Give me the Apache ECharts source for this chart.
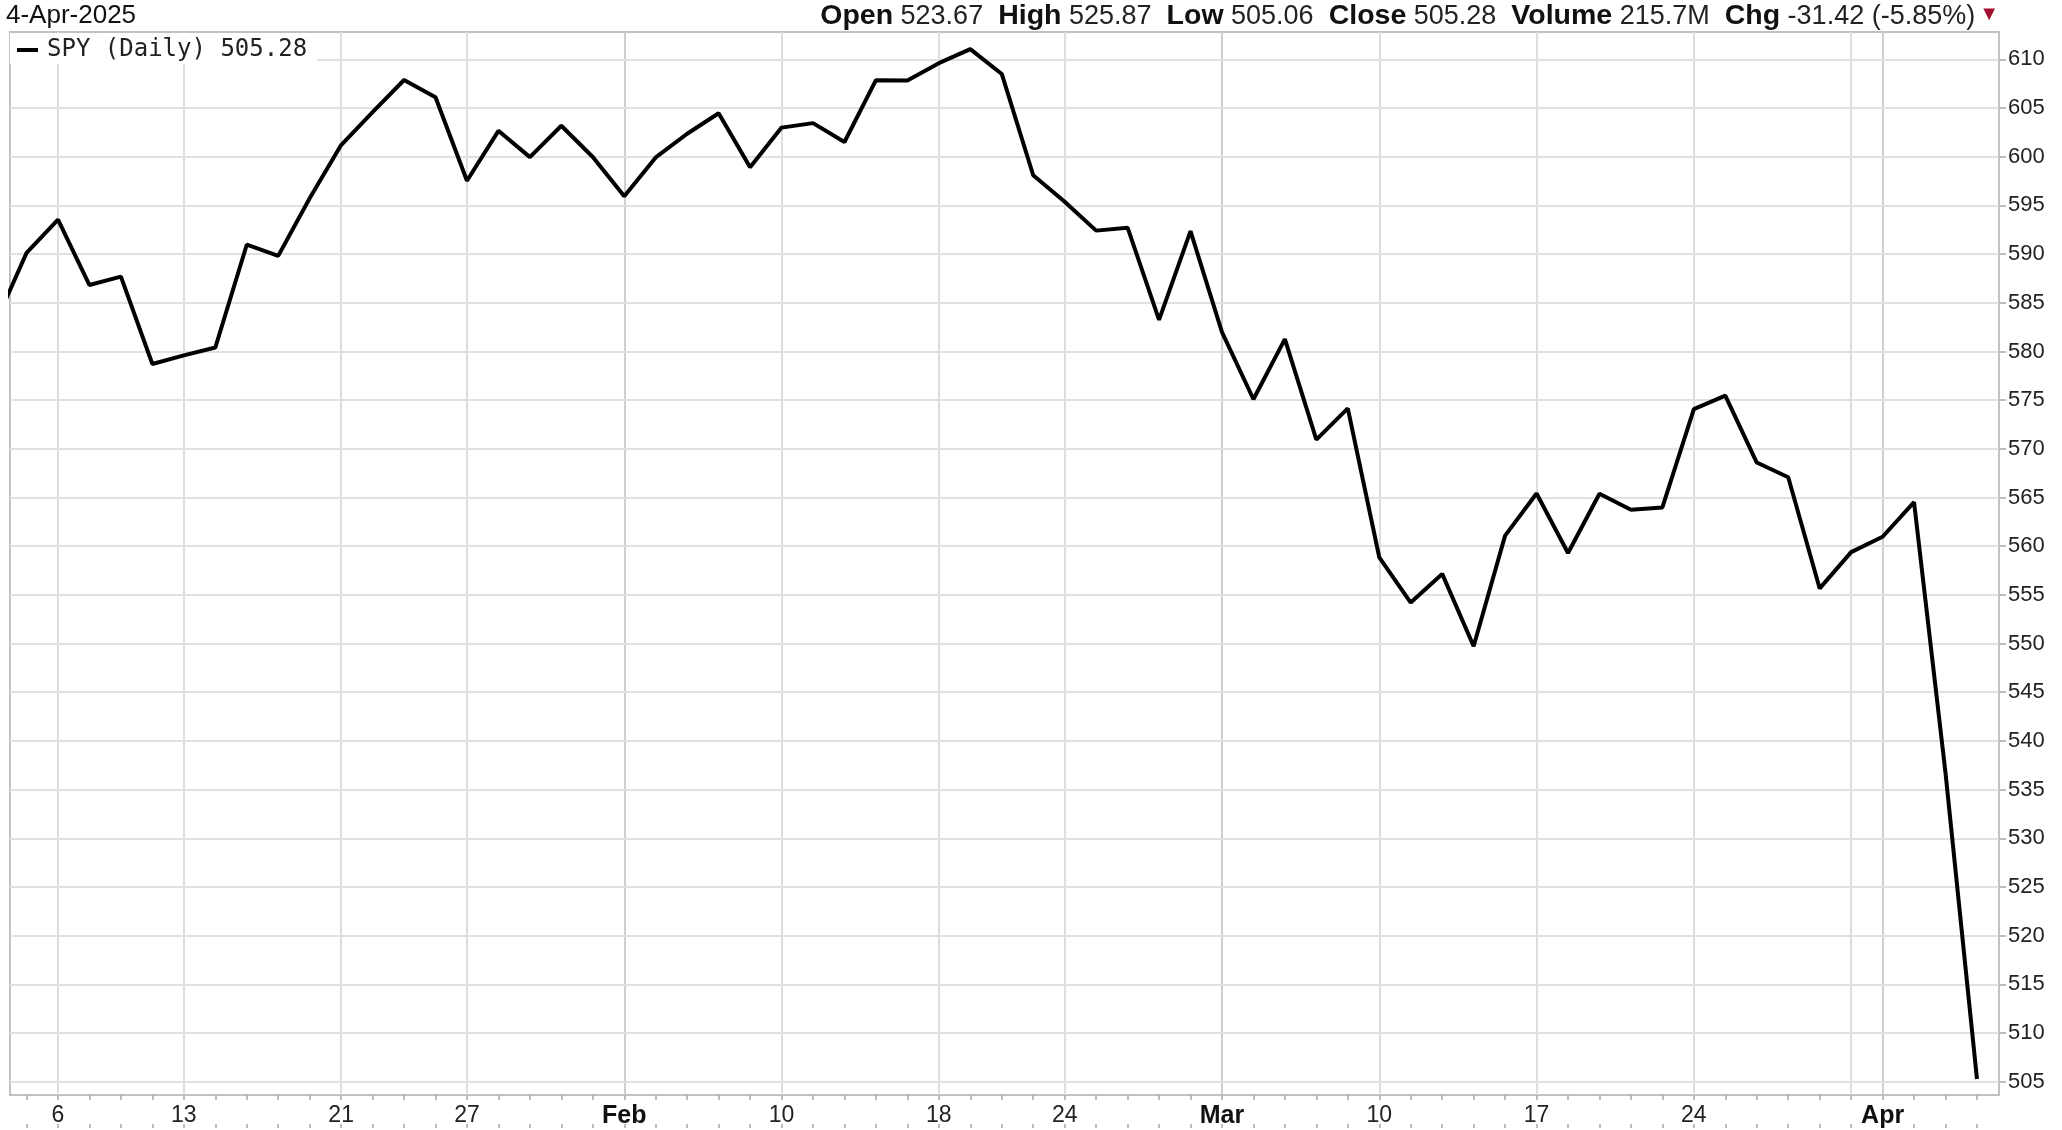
<!DOCTYPE html>
<html>
<head>
<meta charset="utf-8">
<script src="https://cdn.jsdelivr.net/npm/echarts@6/dist/echarts.min.js"></script>
<style>
html,body{margin:0;padding:0;background:#fff;}
#chart{width:2062px;height:1130px;}
</style>
</head>
<body>
<div id="chart"></div>
<script>
// Trading days shown (Jan 2 is partly clipped at the left edge)
const days = [
  '2025-01-02','2025-01-03','2025-01-06','2025-01-07','2025-01-08','2025-01-10','2025-01-13','2025-01-14',
  '2025-01-15','2025-01-16','2025-01-17','2025-01-21','2025-01-22','2025-01-23','2025-01-24','2025-01-27',
  '2025-01-28','2025-01-29','2025-01-30','2025-01-31','2025-02-03','2025-02-04','2025-02-05','2025-02-06',
  '2025-02-07','2025-02-10','2025-02-11','2025-02-12','2025-02-13','2025-02-14','2025-02-18','2025-02-19',
  '2025-02-20','2025-02-21','2025-02-24','2025-02-25','2025-02-26','2025-02-27','2025-02-28','2025-03-03',
  '2025-03-04','2025-03-05','2025-03-06','2025-03-07','2025-03-10','2025-03-11','2025-03-12','2025-03-13',
  '2025-03-14','2025-03-17','2025-03-18','2025-03-19','2025-03-20','2025-03-21','2025-03-24','2025-03-25',
  '2025-03-26','2025-03-27','2025-03-28','2025-03-31','2025-04-01','2025-04-02','2025-04-03','2025-04-04'
];
// SPY daily close
const closes = [
  582.84, 590.13, 593.53, 586.82, 587.68, 578.71, 579.60, 580.40,
  590.96, 589.82, 595.74, 601.20, 604.58, 607.88, 606.10, 597.53,
  602.66, 599.96, 603.18, 599.97, 595.93, 599.93, 602.36, 604.46,
  598.92, 602.99, 603.45, 601.51, 607.86, 607.83, 609.61, 611.05,
  608.50, 598.10, 595.37, 592.41, 592.71, 583.25, 592.35, 581.98,
  575.09, 581.27, 570.95, 574.15, 558.86, 554.21, 557.15, 549.72,
  561.08, 565.41, 559.30, 565.39, 563.75, 563.98, 574.08, 575.46,
  568.59, 567.08, 555.66, 559.39, 560.97, 564.52, 536.70, 505.28
];
// X-axis tick labels
const xTickDates  = ['2025-01-06','2025-01-13','2025-01-21','2025-01-27','2025-02-03','2025-02-10','2025-02-18','2025-02-24','2025-03-03','2025-03-10','2025-03-17','2025-03-24','2025-04-01'];
const xTickLabels = ['6','13','21','27','Feb','10','18','24','Mar','10','17','24','Apr'];
const monthLabels = ['Feb','Mar','Apr'];
const extraGridDates = ['2025-03-31'];
// Y-axis tick labels
const yTicks = [505,510,515,520,525,530,535,540,545,550,555,560,565,570,575,580,585,590,595,600,605,610];

// Header texts
const headerDate = '4-Apr-2025';
const seriesName = 'SPY (Daily)';
const hdrOpen = '523.67';
const hdrHigh = '525.87';
const hdrLow = '505.06';
const hdrClose = '505.28';
const hdrVolume = '215.7M';
const hdrChg = '-31.42 (-5.85%)';

const FONT = "'Liberation Sans', Arial, sans-serif";

const seriesData = closes.map((v, i) => [i, v]);
const xTickIdx = xTickDates.map(d => days.indexOf(d));
const labelByIdx = {};
xTickIdx.forEach((ix, k) => { labelByIdx[ix] = xTickLabels[k]; });
const allIdx = days.map((d, i) => i).filter(i => i >= 1);
const vGridIdx = xTickIdx.concat(extraGridDates.map(d => days.indexOf(d)));

const headerText =
  '{b|Open} {v|' + hdrOpen + '}  {b|High} {v|' + hdrHigh + '}  {b|Low} {v|' + hdrLow +
  '}  {b|Close} {v|' + hdrClose + '}  {b|Volume} {v|' + hdrVolume + '}  {b|Chg} {v|' + hdrChg + '}{t|▼}';

const gridLineData = []
  .concat(vGridIdx.map(ix => {
    const isMonth = monthLabels.indexOf(labelByIdx[ix]) >= 0;
    return { xAxis: ix, lineStyle: { color: isMonth ? '#cfcfcf' : '#dddddd', width: 2, type: 'solid' } };
  }))
  .concat(yTicks.map(v => ({ yAxis: v, lineStyle: { color: '#e0e0e0', width: 2, type: 'solid' } })));

const chart = echarts.init(document.getElementById('chart'), null, { renderer: 'canvas' });
chart.setOption({
  animation: false,
  backgroundColor: '#ffffff',
  title: [
    {
      text: headerDate, left: 6, top: 3, padding: 0,
      textStyle: { fontFamily: FONT, fontSize: 26, fontWeight: 'normal', color: '#111' }
    },
    {
      text: headerText, right: 63, top: 2, padding: 0,
      textStyle: {
        fontFamily: FONT, fontSize: 27, fontWeight: 'normal', color: '#111',
        rich: {
          b: { fontFamily: FONT, fontWeight: 'bold', fontSize: 28.5, color: '#111' },
          v: { fontFamily: FONT, fontWeight: 'normal', fontSize: 27, color: '#222' },
          t: { fontFamily: FONT, fontSize: 20, color: '#a3102f', padding: [0, 0, 5, 4] }
        }
      }
    }
  ],
  legend: {
    left: 10, top: 33, padding: [5, 10, 2, 7], backgroundColor: '#fff',
    itemWidth: 21, itemHeight: 4, icon: 'rect', selectedMode: false,
    textStyle: { fontFamily: "'DejaVu Sans Mono', monospace", fontSize: 24, color: '#222', padding: [0, 0, 0, 4] },
    formatter: name => name + ' ' + closes[closes.length - 1].toFixed(2),
    data: [{ name: seriesName, itemStyle: { color: '#000' } }]
  },
  grid: {
    left: 10, right: 63, top: 32, bottom: 35,
    show: true, borderColor: '#c2c2c2', borderWidth: 2, backgroundColor: '#fff'
  },
  xAxis: [
    {
      type: 'value', min: 0.474, max: 63.70, position: 'bottom',
      axisLine: { show: false },
      splitLine: { show: false },
      axisTick: { show: true, length: 5, lineStyle: { color: '#a8a8a8', width: 1.5 }, customValues: allIdx },
      axisLabel: {
        customValues: xTickIdx, margin: 9,
        fontFamily: FONT, fontSize: 23, color: '#222',
        formatter: v => {
          const l = labelByIdx[Math.round(v)];
          if (l === undefined) return '';
          return monthLabels.indexOf(l) >= 0 ? '{m|' + l + '}' : l;
        },
        rich: { m: { fontFamily: FONT, fontWeight: 'bold', fontSize: 25, color: '#111' } }
      }
    },
    {
      type: 'value', min: 0.474, max: 63.70, position: 'bottom', offset: 33,
      axisLine: { show: false },
      splitLine: { show: false },
      axisLabel: { show: false },
      axisTick: { show: true, inside: true, length: 4, lineStyle: { color: '#a8a8a8', width: 1.5 }, customValues: allIdx }
    }
  ],
  yAxis: {
    type: 'value', position: 'right', min: 503.63, max: 612.81,
    axisLine: { show: false },
    splitLine: { show: false },
    axisTick: { show: true, length: 7, lineStyle: { color: '#a8a8a8', width: 1.5 }, customValues: yTicks },
    axisLabel: { customValues: yTicks, margin: 9, fontFamily: FONT, fontSize: 22, color: '#222', formatter: v => String(Math.round(v)) }
  },
  series: [
    {
      name: '__grid', type: 'line', data: [[1, 600]], showSymbol: false, silent: true, z: 1,
      lineStyle: { opacity: 0 }, itemStyle: { opacity: 0 },
      markLine: {
        silent: true, symbol: ['none', 'none'], label: { show: false }, animation: false, z: 1,
        emphasis: { disabled: true },
        data: gridLineData
      }
    },
    {
      name: seriesName, type: 'line', data: seriesData, showSymbol: false, clip: true, z: 3,
      lineStyle: { color: '#000', width: 4 }, itemStyle: { color: '#000' }
    }
  ]
});
</script>
</body>
</html>
